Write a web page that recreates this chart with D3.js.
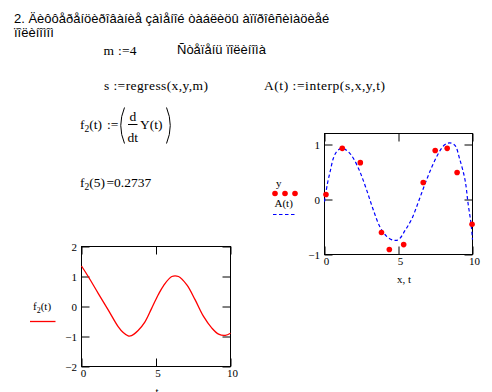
<!DOCTYPE html>
<html>
<head>
<meta charset="utf-8">
<script src="https://cdn.jsdelivr.net/npm/d3@7"></script>
<style>
  body { margin: 0; background: #fff; }
  svg { display: block; }
  .sans { font-family: "Liberation Sans", Arial, sans-serif; }
  .serif { font-family: "Liberation Serif", "Times New Roman", serif; }
</style>
</head>
<body>
<svg id="sheet" width="492" height="392"></svg>
<script>
// measured data points y(x)
var xData = [0.1, 1.2, 2.42, 3.85, 4.38, 5.35, 6.67, 7.48, 8.29, 8.96, 9.97];
var yData = [0.09, 0.93, 0.67, -0.6, -0.91, -0.82, 0.31, 0.89, 0.93, 0.49, -0.45];

// A(t)
var tA = [0, 0.2, 0.4, 0.6, 0.85, 1.2, 1.6, 1.95, 2.4, 2.85, 3.3, 3.75, 4.2, 4.65, 5.0, 5.45, 5.9, 6.35, 6.8, 7.25, 7.7, 8.1, 8.45, 8.8, 9.15, 9.5, 9.7, 9.9, 10];
var aVal = [-0.04, 0.29, 0.53, 0.75, 0.88, 0.93, 0.87, 0.75, 0.5, 0.17, -0.19, -0.5, -0.67, -0.74, -0.73, -0.56, -0.35, -0.04, 0.29, 0.59, 0.84, 0.99, 1.03, 0.99, 0.72, 0.35, -0.07, -0.44, -0.73];

// f2(t)
var tF = [0, 0.45, 1.12, 1.79, 2.46, 2.8, 3.13, 3.36, 3.8, 4.25, 4.7, 5.15, 5.5, 6.06, 6.51, 7.07, 7.63, 8.19, 8.75, 9.2, 9.65, 10];
var fVal = [1.35, 1.0, 0.44, -0.11, -0.67, -0.87, -0.98, -0.97, -0.8, -0.52, -0.07, 0.39, 0.69, 1.0, 1.0, 0.72, 0.22, -0.33, -0.72, -0.92, -0.96, -0.89];

// tick labels
var leftYTicks = [-2, -1, 0, 1, 2];
var rightYTicks = [-1, 0, 1];
var xTicks = [0, 5, 10];

var svg = d3.select('#sheet');
svg.append('rect').attr('width', 492).attr('height', 392).attr('fill', '#fff');

// header text (kept as displayed)
svg.append('text').attr('class', 'sans').attr('x', 14).attr('y', 22.5).attr('font-size', 13)
  .text('2. Äèôôåðåíöèðîâàíèå çàìåíîé òàáëèöû àïïðîêñèìàöèåé');
svg.append('text').attr('class', 'sans').attr('x', 14).attr('y', 37).attr('font-size', 13)
  .text('ïîëèíîìîì');
svg.append('text').attr('class', 'sans').attr('x', 177).attr('y', 53.5).attr('font-size', 13)
  .text('Ñòåïåíü ïîëèíîìà');

// math regions
function mtext(x, y, str, len) {
  var t = svg.append('text').attr('class', 'serif').attr('x', x).attr('y', y).attr('font-size', 13.5).text(str);
  if (len) t.attr('textLength', len).attr('lengthAdjust', 'spacing');
  return t;
}
mtext(103.5, 55, 'm :=4', 33);
mtext(104, 89.5, 's :=regress(x,y,m)', 104);
mtext(264, 89.5, 'A(t) :=interp(s,x,y,t)', 121);

// f2(t) := ( d/dt Y(t) )
var f2def = svg.append('text').attr('class', 'serif').attr('x', 80).attr('y', 128.5).attr('font-size', 13.5);
f2def.append('tspan').text('f');
f2def.append('tspan').attr('font-size', 9.5).attr('dy', 3).text('2');
f2def.append('tspan').attr('dy', -3).text('(t)');
f2def.append('tspan').attr('x', 107).text(':=');
svg.append('path').attr('d', 'M124.5,107.5 Q117,125.5 124.5,143.5').attr('fill', 'none').attr('stroke', '#000').attr('stroke-width', 1);
svg.append('path').attr('d', 'M166.5,107.5 Q174,125.5 166.5,143.5').attr('fill', 'none').attr('stroke', '#000').attr('stroke-width', 1);
svg.append('text').attr('class', 'serif').attr('x', 132.8).attr('y', 121).attr('font-size', 13.5).attr('text-anchor', 'middle').text('d');
svg.append('line').attr('x1', 128).attr('x2', 137.5).attr('y1', 124.5).attr('y2', 124.5).attr('stroke', '#000').attr('stroke-width', 1);
svg.append('text').attr('class', 'serif').attr('x', 132.8).attr('y', 141.5).attr('font-size', 13.5).attr('text-anchor', 'middle').text('dt');
mtext(140, 128.5, 'Y(t)');

// f2(5) = 0.2737
var f2val = svg.append('text').attr('class', 'serif').attr('x', 80).attr('y', 186.5).attr('font-size', 13.5);
f2val.append('tspan').text('f');
f2val.append('tspan').attr('font-size', 9.5).attr('dy', 3).text('2');
f2val.append('tspan').attr('dy', -3).text('(5)');
f2val.append('tspan').attr('x', 106.5).text('=0.2737');

// generic Mathcad-like plot box
function plotBox(x0, x1, y0, y1, xs, ys, yTicks) {
  var g = svg.append('g').attr('class', 'serif').attr('font-size', 11);
  var fmt = function (d) { return d3.format('d')(d); };

  g.append('g').attr('transform', 'translate(' + x0 + ',0)')
    .call(d3.axisLeft(ys).tickValues(yTicks).tickSize(-8).tickPadding(4.5).tickFormat(fmt));
  g.append('g').attr('transform', 'translate(' + x1 + ',0)')
    .call(d3.axisRight(ys).tickValues(yTicks).tickSize(-8).tickFormat(''));
  var bx = g.append('g').attr('transform', 'translate(0,' + y1 + ')')
    .call(d3.axisBottom(xs).tickValues(xTicks).tickSize(-8).tickPadding(2.5).tickFormat(fmt));
  bx.selectAll('.tick text').attr('dx', 1.5);
  g.append('g').attr('transform', 'translate(0,' + y0 + ')')
    .call(d3.axisTop(xs).tickValues(xTicks).tickSize(-8).tickFormat(''));

  g.selectAll('.domain').remove();
  g.selectAll('.tick line').attr('stroke', '#000');
  g.selectAll('.tick text').attr('fill', '#000').attr('font-family', '"Liberation Serif", serif').attr('font-size', 11);
  g.append('rect').attr('x', x0).attr('y', y0).attr('width', x1 - x0).attr('height', y1 - y0)
    .attr('fill', 'none').attr('stroke', '#000').attr('stroke-width', 1);
  return g;
}

// ---- right chart: y and A(t)
var rx = d3.scaleLinear().domain([0, 10]).range([324.5, 472.5]);
var ry = d3.scaleLinear().domain([-1, 1.2]).range([254.5, 133.5]);
plotBox(324.5, 472.5, 133.5, 254.5, rx, ry, rightYTicks);

var aPts = tA.map(function (t, i) { return [t, aVal[i]]; });
svg.append('path').datum(aPts)
  .attr('d', d3.line().x(function (d) { return rx(d[0]); }).y(function (d) { return ry(d[1]); }).curve(d3.curveCatmullRom))
  .attr('fill', 'none').attr('stroke', '#0000ff').attr('stroke-width', 1.2).attr('stroke-dasharray', '3.5,2.5');

svg.selectAll('circle.pt').data(xData).enter().append('circle').attr('class', 'pt')
  .attr('cx', function (d) { return rx(d); })
  .attr('cy', function (d, i) { return ry(yData[i]); })
  .attr('r', 2.8).attr('fill', '#ff0000');

svg.append('text').attr('class', 'serif').attr('x', 404).attr('y', 282.5).attr('font-size', 11)
  .attr('text-anchor', 'middle').text('x, t');

// legend right
svg.append('text').attr('class', 'serif').attr('x', 276).attr('y', 186.5).attr('font-size', 11).text('y');
[275, 285, 295].forEach(function (cx) {
  svg.append('circle').attr('cx', cx).attr('cy', 193.5).attr('r', 2.8).attr('fill', '#ff0000');
});
svg.append('text').attr('class', 'serif').attr('x', 274.5).attr('y', 206.5).attr('font-size', 11).text('A(t)');
svg.append('line').attr('x1', 273).attr('x2', 295).attr('y1', 214.5).attr('y2', 214.5)
  .attr('stroke', '#0000ff').attr('stroke-width', 1.2).attr('stroke-dasharray', '3.5,2.5');

// ---- left chart: f2(t)
var lx = d3.scaleLinear().domain([0, 10]).range([81.5, 230.5]);
var ly = d3.scaleLinear().domain([-2, 2]).range([366.5, 246.5]);
plotBox(81.5, 230.5, 246.5, 366.5, lx, ly, leftYTicks);

var fPts = tF.map(function (t, i) { return [t, fVal[i]]; });
svg.append('path').datum(fPts)
  .attr('d', d3.line().x(function (d) { return lx(d[0]); }).y(function (d) { return ly(d[1]); }).curve(d3.curveCatmullRom))
  .attr('fill', 'none').attr('stroke', '#ff0000').attr('stroke-width', 1.3);

// axis name sits at the very bottom edge, as in the worksheet
svg.append('text').attr('class', 'serif').attr('x', 157).attr('y', 395).attr('font-size', 11)
  .attr('text-anchor', 'middle').text('t');

// legend left
var lg = svg.append('text').attr('class', 'serif').attr('x', 33).attr('y', 310).attr('font-size', 11);
lg.append('tspan').text('f');
lg.append('tspan').attr('font-size', 8).attr('dy', 2.5).text('2');
lg.append('tspan').attr('dy', -2.5).text('(t)');
svg.append('line').attr('x1', 30).attr('x2', 55.5).attr('y1', 321.5).attr('y2', 321.5)
  .attr('stroke', '#ff0000').attr('stroke-width', 1.3);
</script>
</body>
</html>
